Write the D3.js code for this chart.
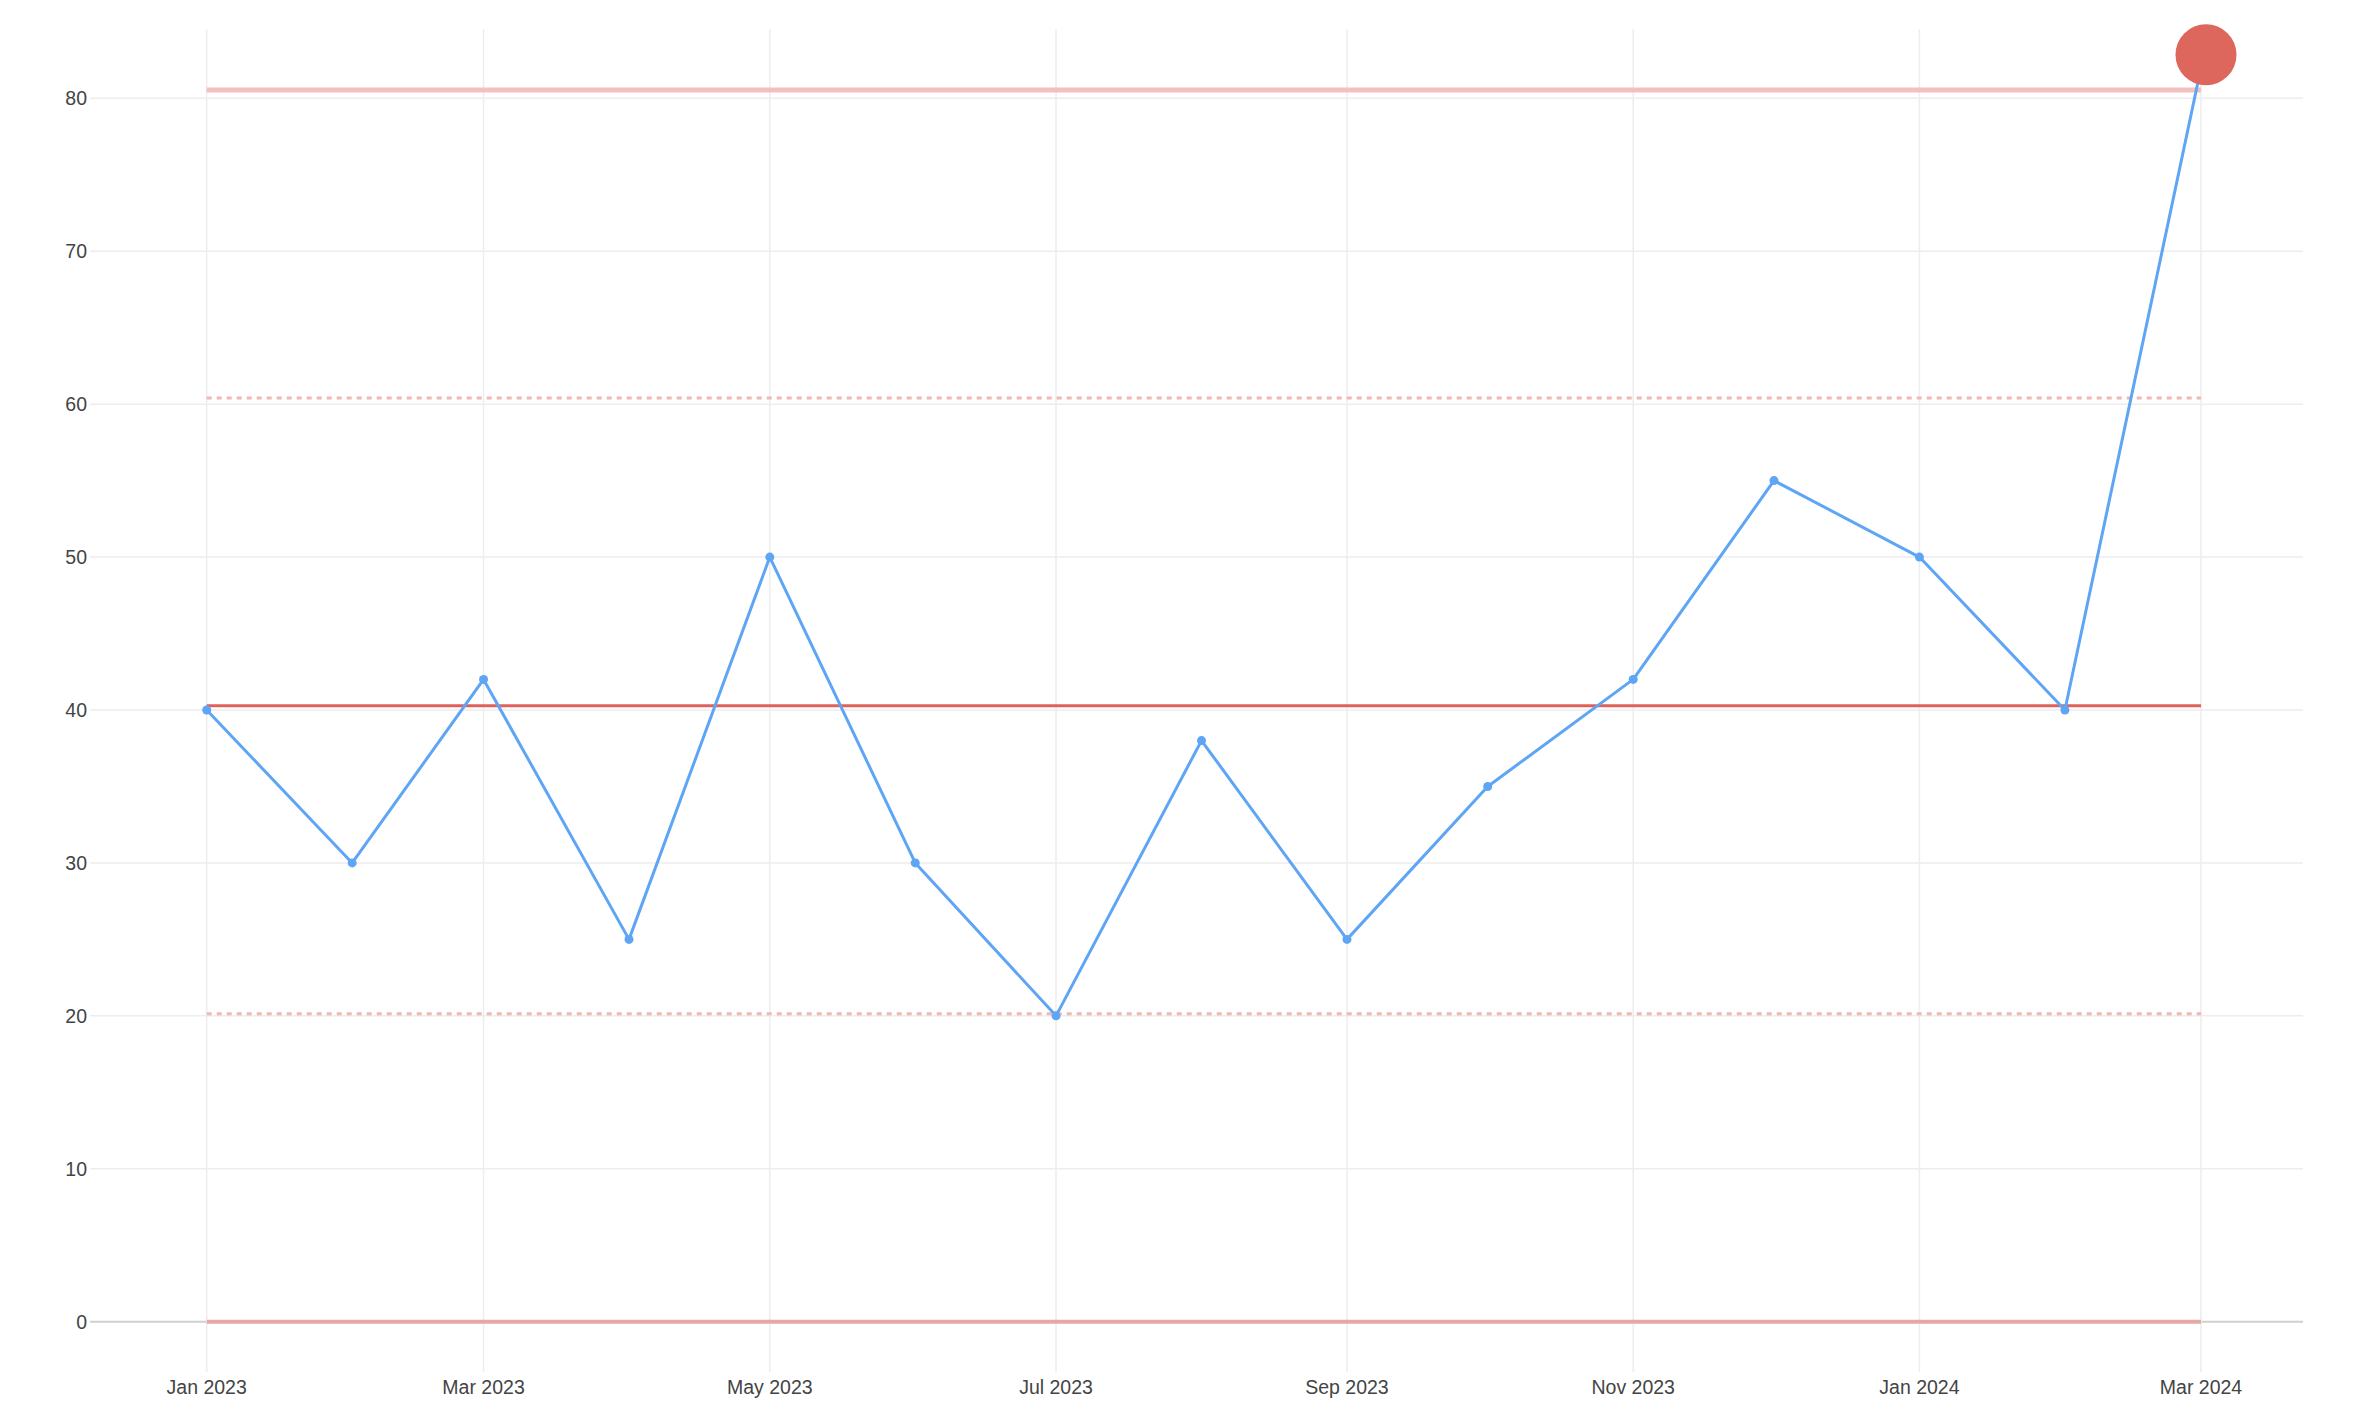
<!DOCTYPE html>
<html>
<head>
<meta charset="utf-8">
<script src="https://cdn.jsdelivr.net/npm/d3@7"></script>
<style>
  html, body { margin: 0; padding: 0; background: #ffffff; }
  svg { display: block; }
  text { font-family: "Liberation Sans", Arial, Helvetica, sans-serif; }
</style>
</head>
<body>
<svg id="chart" width="2360" height="1416"></svg>
<script>
// ---- data ----
const months = ["2023-01","2023-02","2023-03","2023-04","2023-05","2023-06","2023-07",
                "2023-08","2023-09","2023-10","2023-11","2023-12","2024-01","2024-02","2024-03"];
const values = [40, 30, 42, 25, 50, 30, 20, 38, 25, 35, 42, 55, 50, 40, 82];
const yTicks = [0, 10, 20, 30, 40, 50, 60, 70, 80];
const xTickMonths = ["2023-01","2023-03","2023-05","2023-07","2023-09","2023-11","2024-01","2024-03"];
const xTickLabels = ["Jan 2023","Mar 2023","May 2023","Jul 2023","Sep 2023","Nov 2023","Jan 2024","Mar 2024"];
const centreLine = 40.27;
const upperLimit = 80.55;
const lowerLimit = 0;
const upperWarning = 60.41;
const lowerWarning = 20.13;
const highlightIndex = [14];

// ---- layout ----
const parse = d3.timeParse("%Y-%m");
const dates = months.map(parse);
const svg = d3.select("#chart");

const x = d3.scaleTime()
  .domain([dates[0], dates[dates.length - 1]])
  .range([206.7, 2201]);
const y = d3.scaleLinear()
  .domain([0, 80])
  .range([1321.7, 98.3]);

const gridLeft = 90, gridRight = 2303, gridTop = 29, gridBottom = 1372;

// horizontal gridlines
svg.append("g").selectAll("line").data(yTicks).join("line")
  .attr("x1", gridLeft).attr("x2", gridRight)
  .attr("y1", d => y(d)).attr("y2", d => y(d))
  .attr("stroke", d => d === 0 ? "#cfcfcf" : "#ededed")
  .attr("stroke-width", d => d === 0 ? 2 : 1.5);

// vertical gridlines
const xTickDates = xTickMonths.map(parse);
svg.append("g").selectAll("line").data(xTickDates).join("line")
  .attr("x1", d => x(d)).attr("x2", d => x(d))
  .attr("y1", gridTop).attr("y2", gridBottom)
  .attr("stroke", "#ededed").attr("stroke-width", 1.5);

// y tick labels
svg.append("g").selectAll("text").data(yTicks).join("text")
  .attr("x", 87).attr("y", d => y(d))
  .attr("dy", "0.35em")
  .attr("text-anchor", "end")
  .attr("font-size", "19.5px")
  .attr("fill", "#444")
  .text(d => d);

// x tick labels
svg.append("g").selectAll("text").data(xTickDates).join("text")
  .attr("x", d => x(d)).attr("y", 1394)
  .attr("text-anchor", "middle")
  .attr("font-size", "19.5px")
  .attr("fill", "#444")
  .text((d, i) => xTickLabels[i]);

const x0 = x(dates[0]), x1 = x(dates[dates.length - 1]);

// warning lines (dotted)
svg.append("g").selectAll("line").data([upperWarning, lowerWarning]).join("line")
  .attr("x1", x0).attr("x2", x1)
  .attr("y1", d => y(d)).attr("y2", d => y(d))
  .attr("stroke", "#f1b7b3").attr("stroke-width", 3)
  .attr("stroke-dasharray", "5,5");

// lower control limit
svg.append("line")
  .attr("x1", x0).attr("x2", x1)
  .attr("y1", y(lowerLimit)).attr("y2", y(lowerLimit))
  .attr("stroke", "#e6a8a4").attr("stroke-width", 4);

// upper control limit
svg.append("line")
  .attr("x1", x0).attr("x2", x1)
  .attr("y1", y(upperLimit)).attr("y2", y(upperLimit))
  .attr("stroke", "#f2c1bd").attr("stroke-width", 5);

// centre line
svg.append("line")
  .attr("x1", x0).attr("x2", x1)
  .attr("y1", y(centreLine)).attr("y2", y(centreLine))
  .attr("stroke", "#df625a").attr("stroke-width", 3);

// series line
const line = d3.line().x((d, i) => x(dates[i])).y(d => y(d));
svg.append("path")
  .datum(values)
  .attr("d", line)
  .attr("fill", "none")
  .attr("stroke", "#5ea5f5")
  .attr("stroke-width", 3)
  .attr("stroke-linejoin", "round");

// points
svg.append("g").selectAll("circle").data(values).join("circle")
  .attr("cx", (d, i) => x(dates[i]))
  .attr("cy", d => y(d))
  .attr("r", 4.5)
  .attr("fill", "#5ea5f5");

// highlighted out-of-control point
svg.append("g").selectAll("circle").data(highlightIndex).join("circle")
  .attr("cx", i => x(dates[i]) + 5)
  .attr("cy", i => y(values[i]) - 13)
  .attr("r", 30.5)
  .attr("fill", "#dd675c");
</script>
</body>
</html>
